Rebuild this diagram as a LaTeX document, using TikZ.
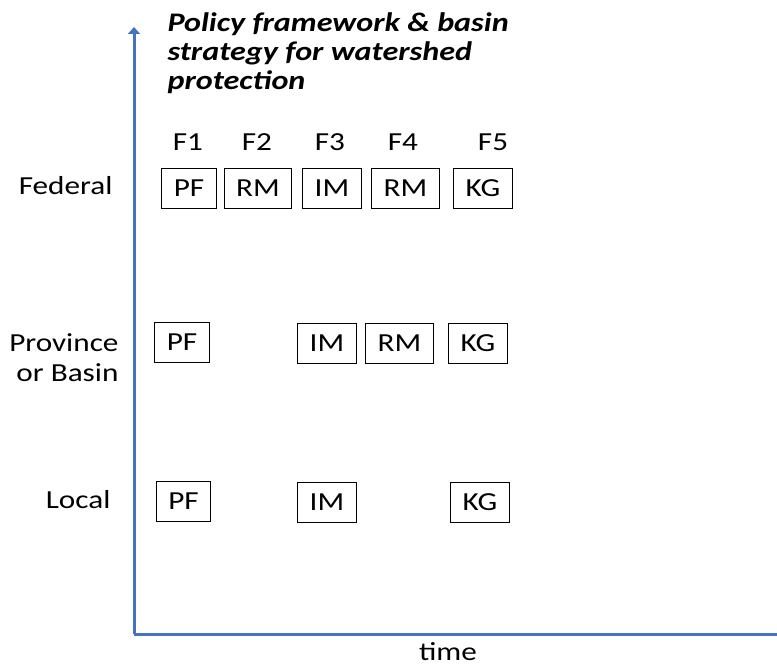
\documentclass[tikz,border=0pt]{standalone}
\usepackage{fontspec}
\setmainfont{Carlito}[FakeStretch=1.2]
\usetikzlibrary{positioning, arrows.meta}
\definecolor{ejeazul}{RGB}{68,114,196}
\tikzset{
	>={Triangle[length=7pt,width=12pt]}, % punta de flecha de los ejes
	eje/.style={->, draw=ejeazul, line width=3pt}, % ejes del grafico
	caja/.style={draw, thick, minimum height=40pt, inner xsep=12pt, font=\fontsize{26}{30}\selectfont}, % cajas de cada fase
	etiqueta/.style={font=\fontsize{26}{30}\selectfont} % textos sueltos
}

\begin{document}
\begin{tikzpicture}[x=1pt, y=-1pt]
				\useasboundingbox (0,0) rectangle (777,666);
				\coordinate (origen) at (134,634);
				\coordinate (arriba) at (134,27);
				\coordinate (derecha) at (784,634);
				\draw[eje] (origen) -- (arriba);
				\draw[eje] (origen) -- (derecha);

				\node[etiqueta, anchor=north west, align=left, font=\fontsize{26.8}{29}\selectfont\bfseries\itshape] (titulo) at (164,9.5) {Policy framework \& basin\\strategy for watershed\\protection};
				\node[etiqueta] (tiempo) at (448,652) {time};

				\node[etiqueta, anchor=east] (federal) at (116,186) {Federal};
				\node[etiqueta, anchor=east, align=right] (provincia) at (122,358) {Province\\or Basin};
				\node[etiqueta, anchor=east] (local) at (114,500) {Local};

				\node[caja] (fPF) at (189,188) {PF};
				\node[caja] (fRM1) at (258,188) {RM};
				\node[caja] (fIM) at (332,188) {IM};
				\node[caja] (fRM2) at (405.5,188) {RM};
				\node[caja] (fKG) at (483,188) {KG};

				\node[etiqueta] (F1) at (188,142) {F1};
				\node[etiqueta] (F2) at (257,142) {F2};
				\node[etiqueta] (F3) at (330,142) {F3};
				\node[etiqueta] (F4) at (403,142) {F4};
				\node[etiqueta] (F5) at (493,142) {F5};

				\node[caja] (pPF) at (182,342) {PF};
				\node[caja] (pIM) at (327,343.5) {IM};
				\node[caja] (pRM) at (399.5,343.5) {RM};
				\node[caja] (pKG) at (478,343.5) {KG};

				\node[caja] (lPF) at (183.5,501.5) {PF};
				\node[caja] (lIM) at (327,502.5) {IM};
				\node[caja] (lKG) at (480,502.5) {KG};
			\end{tikzpicture}
\end{document}
